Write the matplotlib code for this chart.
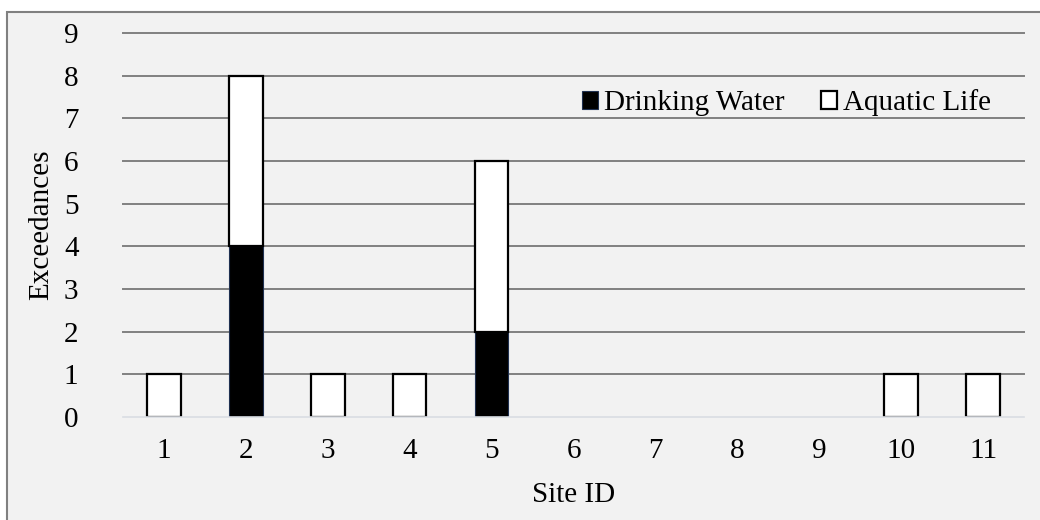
import numpy as np
import matplotlib.pyplot as plt
from matplotlib.patches import Rectangle

sites = ['1', '2', '3', '4', '5', '6', '7', '8', '9', '10', '11']
drinking_water = [0, 4, 0, 0, 2, 0, 0, 0, 0, 0, 0]
aquatic_life = [1, 4, 1, 1, 4, 0, 0, 0, 0, 1, 1]

plt.rcParams['font.family'] = ['Liberation Serif', 'DejaVu Serif']
fs = 21

fig = plt.figure(figsize=(10.4, 5.2), dpi=100, facecolor='white')
# grey chart area with a border on the left and top
fig.patches.append(Rectangle((7 / 1040, -0.1), 1.2, 1.1 - 12 / 520,
                             transform=fig.transFigure, facecolor='#F2F2F2',
                             edgecolor='#808080', linewidth=1.5, zorder=-5))

ax = fig.add_axes([123 / 1040, 1 - 417 / 520, (1024 - 123) / 1040, (417 - 33) / 520])
ax.set_facecolor('#F2F2F2')

x = np.arange(len(sites))
w = 0.41
dw = np.array(drinking_water)
al = np.array(aquatic_life)

# no outline on empty segments
dw_edges = ['#1F3050' if v > 0 else 'none' for v in dw]
al_edges = ['black' if v > 0 else 'none' for v in al]

ax.bar(x, dw, w, color='black', edgecolor=dw_edges, linewidth=0.8,
       label='Drinking Water', zorder=3)
ax.bar(x, al, w, bottom=dw, color='white', edgecolor=al_edges, linewidth=1.6,
       label='Aquatic Life', zorder=3)

ax.set_xlim(-0.5, len(sites) - 0.5)
ax.set_ylim(0, 9)
ax.set_yticks(range(0, 10))
ax.set_xticks(x)
ax.set_xticklabels(sites)

for yv in range(1, 10):
    ax.axhline(yv, color='#808080', linewidth=1.4, zorder=1, clip_on=False)

for side in ['top', 'right', 'left']:
    ax.spines[side].set_visible(False)
ax.spines['bottom'].set_color('#D9DDE3')
ax.spines['bottom'].set_linewidth(1.2)
ax.spines['bottom'].set_zorder(4)

ax.tick_params(axis='both', length=0, labelsize=fs)
ax.tick_params(axis='x', pad=15)
ax.tick_params(axis='y', pad=32)

ax.set_xlabel('Site ID', fontsize=fs, labelpad=13)
ax.set_ylabel('Exceedances', fontsize=fs, labelpad=7)

leg = ax.legend(loc='upper right', bbox_to_anchor=(0.992, 0.922), ncol=2,
                frameon=False, fontsize=fs, handlelength=0.55, handleheight=0.55,
                handletextpad=0.2, columnspacing=1.25)
leg.legend_handles[0].set_edgecolor('#1F3050')
leg.legend_handles[1].set_edgecolor('black')

fig.savefig('out.png', dpi=100, facecolor=fig.get_facecolor())
